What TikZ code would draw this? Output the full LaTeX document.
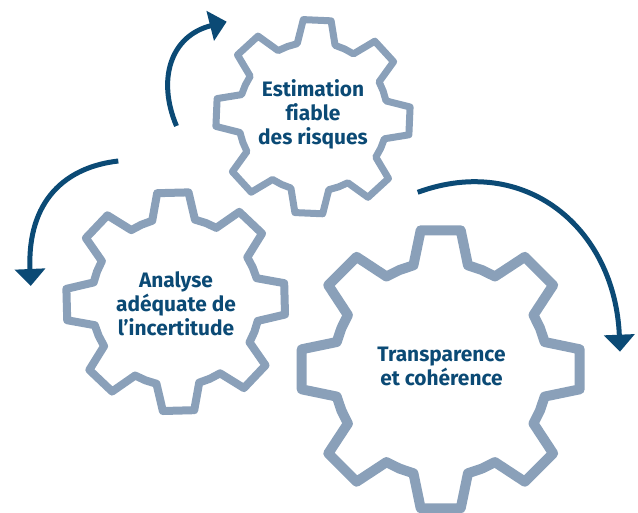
\documentclass[tikz,border=0pt]{standalone}
\usepackage{fontspec}
\setmainfont{Fira Sans}[Ligatures=NoCommon]
\usetikzlibrary{arrows.meta}
\definecolor{gearblue}{HTML}{8AA0B9}
\definecolor{deepblue}{HTML}{0B4A75}
\tikzset{
  gearline/.style={draw=gearblue,line join=round},
  cycleline/.style={draw=deepblue,line width=5pt},
  labeltext/.style={text=deepblue,font=\fontsize{20.9}{24}\selectfont\bfseries,align=center,inner sep=0pt},
}
\newcommand{\gearshape}[5]{% x, y, scale, rotation, line width
  \begin{scope}[shift={(#1,#2)},rotate=#4,scale=#3]
    \draw[gearline,line width=#5]
      (90-14.7:107.5)
      \foreach \k in {0,...,7}{
        -- ({90+45*\k-14.7}:107.5) -- ({90+45*\k-8.2}:140.4) -- ({90+45*\k+8.2}:140.4) -- ({90+45*\k+14.7}:107.5) -- ({90+45*\k+22.5}:107.5)
      } -- cycle;
  \end{scope}
}
\begin{document}
\begin{tikzpicture}[x=1pt,y=-1pt]
  \useasboundingbox (0,0) rectangle (638,513);
  \gearshape{313}{116.7}{0.695}{-2.5}{7pt}
  \gearshape{175.7}{301.7}{0.784}{1.5}{8pt}
  \gearshape{440.7}{369.3}{1}{0}{10pt}
  \node[labeltext] (risques) at (313,114.5) {Estimation\\fiable\\des risques};
  \node[labeltext] (incertitude) at (176,304) {Analyse\\adéquate de\\l’incertitude};
  \node[labeltext] (transparence) at (441.5,366) {Transparence\\et cohérence};
  \coordinate (a1s) at (176.5,126);
  \coordinate (a1e) at (226.7,21.7);
  \coordinate (a2s) at (118.3,161);
  \coordinate (a2e) at (30.7,286);
  \coordinate (a3s) at (417.7,192.3);
  \coordinate (a3e) at (620,351.7);
  \draw[cycleline,-{Triangle[length=17pt,width=30pt]}] (a1s) .. controls (157,80) and (170,36) .. (a1e);
  \draw[cycleline,-{Triangle[length=17pt,width=30pt]}] (a2s) .. controls (66,167) and (27,200) .. (a2e);
  \draw[cycleline,-{Triangle[length=17pt,width=30pt]}] (a3s) .. controls (525,153) and (615,228) .. (a3e);
\end{tikzpicture}
\end{document}
